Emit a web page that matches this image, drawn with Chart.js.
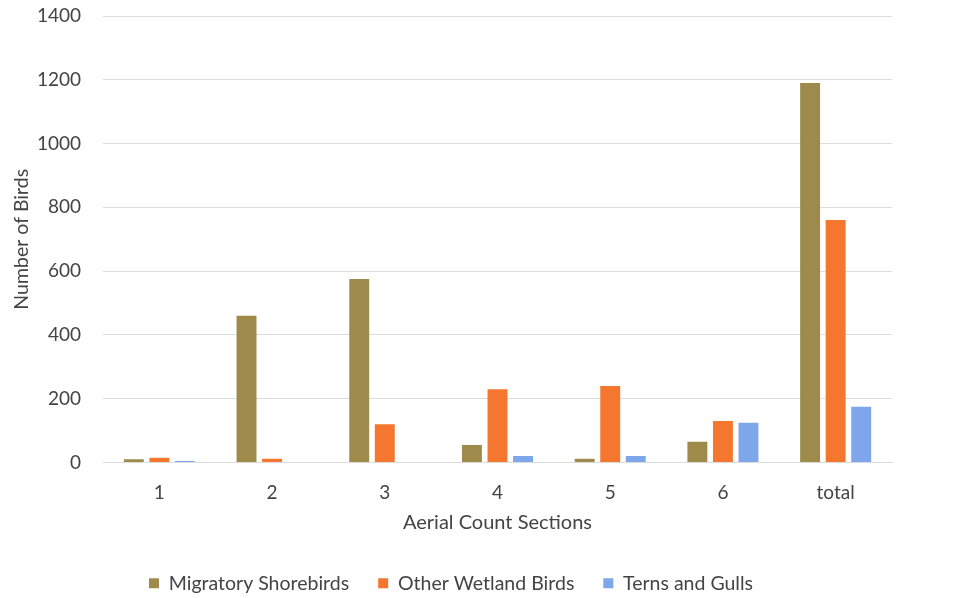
<!DOCTYPE html>
<html>
<head>
<meta charset="utf-8">
<title>Number of Birds by Aerial Count Section</title>
<script src="https://cdn.jsdelivr.net/npm/chart.js@4.4.1/dist/chart.umd.min.js"></script>
<style>
  html, body { margin: 0; padding: 0; background: #ffffff; }
  #wrap { width: 958px; height: 598px; position: relative; }
</style>
</head>
<body>
<div id="wrap"><canvas id="chart"></canvas></div>
<script>
// Aerial count sections along the x axis
const sections = ['1', '2', '3', '4', '5', '6', 'total'];

// Bird counts per section
const migratoryShorebirds = [10, 460, 575, 55, 12, 65, 1190];
const otherWetlandBirds   = [15, 12, 120, 230, 240, 130, 760];
const ternsAndGulls       = [5, 0, 0, 20, 20, 125, 175];

// Value axis ticks
const yTicks = [0, 200, 400, 600, 800, 1000, 1200, 1400];

const FONT = 'Lato, "Open Sans", "Liberation Sans", sans-serif';
const TEXT = '#444444';
const GRID = '#dcdcdc';

new Chart(document.getElementById('chart'), {
  type: 'bar',
  data: {
    labels: sections,
    datasets: [
      { label: 'Migratory Shorebirds', data: migratoryShorebirds, backgroundColor: '#9e8b4c' },
      { label: 'Other Wetland Birds',  data: otherWetlandBirds,   backgroundColor: '#f5772f' },
      { label: 'Terns and Gulls',      data: ternsAndGulls,       backgroundColor: '#7ea6ea' }
    ]
  },
  options: {
    responsive: true,
    maintainAspectRatio: false,
    animation: false,
    categoryPercentage: 0.68,
    barPercentage: 0.78,
    layout: { padding: { top: 16, left: 10, right: 66, bottom: -5 } },
    plugins: {
      tooltip: { enabled: false },
      legend: {
        position: 'bottom',
        labels: {
          font: { family: FONT, size: 19.5 },
          color: TEXT,
          boxWidth: 10,
          boxHeight: 10,
          padding: 29
        }
      }
    },
    scales: {
      x: {
        afterFit: (scale) => { scale.height = 82; },
        grid: { display: false, drawTicks: false },
        border: { display: true, color: GRID, width: 1 },
        ticks: { font: { family: FONT, size: 19 }, color: TEXT, padding: 19 },
        title: {
          display: true,
          text: 'Aerial Count Sections',
          font: { family: FONT, size: 20 },
          color: TEXT,
          padding: { top: 0, bottom: 10 }
        }
      },
      y: {
        min: 0,
        max: 1400,
        afterBuildTicks: (scale) => { scale.ticks = yTicks.map(v => ({ value: v })); },
        afterFit: (scale) => { scale.width = 93; },
        // invisible tick marks keep the labels clear of the plot
        grid: { color: GRID, lineWidth: 1, drawTicks: true, tickLength: 22, tickColor: 'rgba(0,0,0,0)' },
        border: { display: false },
        ticks: {
          font: { family: FONT, size: 19 },
          color: TEXT,
          padding: 0,
          callback: (v) => String(v)
        },
        title: {
          display: true,
          text: 'Number of Birds',
          font: { family: FONT, size: 19.5 },
          color: TEXT,
          padding: { top: 0, bottom: 0 }
        }
      }
    }
  }
});
</script>
</body>
</html>
